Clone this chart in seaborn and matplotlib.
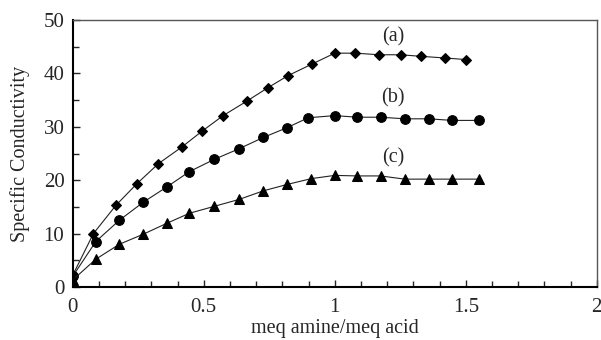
import seaborn as sns
import pandas as pd
import matplotlib.pyplot as plt
from matplotlib.ticker import MultipleLocator

# curve (a) - diamonds
x_a = [0, 0.079, 0.165, 0.244, 0.327, 0.416, 0.494, 0.574, 0.664, 0.744,
       0.822, 0.915, 1.0, 1.079, 1.169, 1.251, 1.331, 1.419, 1.501]
y_a = [2.2, 10.0, 15.3, 19.3, 23.1, 26.2, 29.2, 32.1, 34.8, 37.3,
       39.6, 41.8, 43.8, 43.8, 43.5, 43.5, 43.2, 42.9, 42.6]
# curve (b) - circles
x_b = [0, 0.088, 0.178, 0.27, 0.358, 0.445, 0.54, 0.635, 0.727, 0.816,
       0.899, 1.0, 1.086, 1.175, 1.267, 1.359, 1.448, 1.55]
y_b = [2.0, 8.5, 12.5, 15.9, 18.7, 21.6, 23.9, 25.9, 28.0, 29.8,
       31.7, 32.1, 31.8, 31.8, 31.5, 31.5, 31.2, 31.2]
# curve (c) - triangles
x_c = [0, 0.088, 0.178, 0.27, 0.358, 0.445, 0.54, 0.635, 0.727, 0.818,
       0.911, 1.0, 1.086, 1.175, 1.267, 1.359, 1.448, 1.551]
y_c = [1.3, 5.2, 8.0, 9.9, 11.9, 13.8, 15.1, 16.4, 18.0, 19.2,
       20.3, 20.9, 20.8, 20.8, 20.2, 20.2, 20.2, 20.2]

curve_names = ['(a)', '(b)', '(c)']
label_x = [1.222, 1.222, 1.222]
label_y = [46.8, 35.4, 24.2]

data = pd.concat([
    pd.DataFrame({'x': x_a, 'y': y_a, 'curve': '(a)'}),
    pd.DataFrame({'x': x_b, 'y': y_b, 'curve': '(b)'}),
    pd.DataFrame({'x': x_c, 'y': y_c, 'curve': '(c)'}),
])

sns.set_style('white')
plt.rcParams['font.family'] = ['Liberation Serif', 'DejaVu Serif']

fig = plt.figure(figsize=(6.01, 3.40), dpi=100)
ax = fig.add_axes([0.121, 0.156, 0.872, 0.785])

sizes = {'(a)': 5.5, '(b)': 7, '(c)': 7.5}
for name, marker in zip(curve_names, ['D', 'o', '^']):
    sub = data[data['curve'] == name]
    sns.lineplot(ax=ax, data=sub, x='x', y='y', color='#222222', linewidth=0.8,
                 marker=marker, markersize=sizes[name], markerfacecolor='black',
                 markeredgecolor='black', sort=False, legend=False)

for name, tx, ty in zip(curve_names, label_x, label_y):
    ax.text(tx, ty, name, fontsize=14.5, ha='center', va='center')

ax.set_xlim(0, 2)
ax.set_ylim(0, 50)
ax.xaxis.set_major_locator(MultipleLocator(0.5))
ax.xaxis.set_minor_locator(MultipleLocator(0.1))
ax.yaxis.set_major_locator(MultipleLocator(10))
ax.yaxis.set_minor_locator(MultipleLocator(5))
ax.set_xticks([0, 0.5, 1, 1.5, 2], ['0', '0.5', '1', '1.5', '2'])
ax.tick_params(which='both', direction='in', bottom=True, left=True,
               top=False, right=False, labelsize=15)
ax.tick_params(axis='x', pad=8)
ax.tick_params(axis='y', pad=6)
ax.tick_params(which='major', length=5, width=1)
ax.tick_params(which='minor', length=4, width=1)

ax.set_xlabel('meq amine/meq acid', fontsize=14.5, labelpad=1.5)
ax.set_ylabel('Specific Conductivity', fontsize=14.5, labelpad=10)

for side in ['left', 'bottom']:
    ax.spines[side].set_color('black')
    ax.spines[side].set_linewidth(1.5)
for side in ['top', 'right']:
    ax.spines[side].set_color('#555555')
    ax.spines[side].set_linewidth(1.0)

fig.savefig('out.png', dpi=100)
